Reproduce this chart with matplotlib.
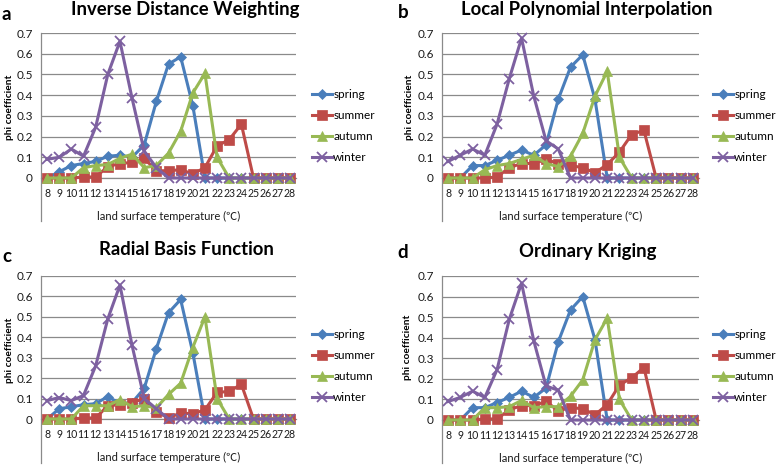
import matplotlib
matplotlib.use("Agg")
import matplotlib.pyplot as plt

plt.rcParams['font.family'] = ['Lato', 'Noto Sans CJK SC', 'DejaVu Sans']

temps = list(range(8, 29))
tick_labels = [str(t) for t in temps]
series_names = ['spring', 'summer', 'autumn', 'winter']
panel_titles = ['Inverse Distance Weighting', 'Local Polynomial Interpolation',
                'Radial Basis Function', 'Ordinary Kriging']
panel_letters = ['a', 'b', 'c', 'd']
x_label = 'land surface temperature (\u2103)'
y_label = 'phi coefficient'
y_ticks = [0, 0.1, 0.2, 0.3, 0.4, 0.5, 0.6, 0.7]
y_tick_labels = ['0', '0.1', '0.2', '0.3', '0.4', '0.5', '0.6', '0.7']

# a: Inverse Distance Weighting
idw_spring = [0, 0.03, 0.06, 0.07, 0.08, 0.105, 0.11, 0.10, 0.16, 0.37, 0.55, 0.585, 0.35, 0, 0, 0, 0, 0, 0, 0, 0]
idw_summer = [0, 0, 0, 0.005, 0.005, 0.055, 0.07, 0.075, 0.095, 0.035, 0.035, 0.04, 0.02, 0.05, 0.155, 0.185, 0.26, 0, 0, 0, 0]
idw_autumn = [0, 0, 0, 0.05, 0.06, 0.065, 0.095, 0.115, 0.05, 0.06, 0.12, 0.225, 0.41, 0.505, 0.10, 0, 0, 0, 0, 0, 0]
idw_winter = [0.09, 0.10, 0.14, 0.105, 0.245, 0.50, 0.66, 0.385, 0.13, 0.05, 0, 0, 0, 0, 0, 0, 0, 0, 0, 0, 0]

# b: Local Polynomial Interpolation
lpi_spring = [0, 0, 0.06, 0.06, 0.085, 0.11, 0.135, 0.11, 0.16, 0.38, 0.535, 0.595, 0.38, 0, 0, 0, 0, 0, 0, 0, 0]
lpi_summer = [0, 0, 0, 0, 0.005, 0.05, 0.07, 0.07, 0.09, 0.07, 0.06, 0.05, 0.025, 0.065, 0.125, 0.21, 0.23, 0, 0, 0, 0]
lpi_autumn = [0, 0, 0, 0.04, 0.06, 0.07, 0.09, 0.11, 0.07, 0.055, 0.105, 0.215, 0.395, 0.515, 0.10, 0, 0, 0, 0, 0, 0]
lpi_winter = [0.08, 0.11, 0.14, 0.11, 0.26, 0.48, 0.675, 0.395, 0.18, 0.14, 0, 0, 0, 0, 0, 0, 0, 0, 0, 0, 0]

# c: Radial Basis Function
rbf_spring = [0, 0.05, 0.06, 0.07, 0.075, 0.11, 0.075, 0.08, 0.15, 0.345, 0.52, 0.585, 0.325, 0, 0, 0, 0, 0, 0, 0, 0]
rbf_summer = [0, 0, 0, 0.005, 0.005, 0.065, 0.07, 0.08, 0.10, 0.035, 0.005, 0.03, 0.025, 0.045, 0.13, 0.135, 0.17, 0, 0, 0, 0]
rbf_autumn = [0, 0, 0, 0.065, 0.065, 0.065, 0.095, 0.06, 0.065, 0.055, 0.12, 0.175, 0.35, 0.50, 0.10, 0, 0, 0, 0, 0, 0]
rbf_winter = [0.09, 0.105, 0.09, 0.115, 0.26, 0.49, 0.655, 0.36, 0.10, 0.05, 0, 0, 0, 0, 0, 0, 0, 0, 0, 0, 0]

# d: Ordinary Kriging
ok_spring = [0, 0, 0.06, 0.06, 0.085, 0.11, 0.14, 0.11, 0.155, 0.38, 0.535, 0.60, 0.39, 0, 0, 0, 0, 0, 0, 0, 0]
ok_summer = [0, 0, 0, 0.005, 0.005, 0.05, 0.07, 0.07, 0.09, 0.045, 0.06, 0.055, 0.025, 0.075, 0.17, 0.205, 0.255, 0, 0, 0, 0]
ok_autumn = [0, 0, 0, 0.06, 0.06, 0.065, 0.095, 0.06, 0.065, 0.065, 0.115, 0.195, 0.39, 0.495, 0.10, 0, 0, 0, 0, 0, 0]
ok_winter = [0.09, 0.11, 0.14, 0.11, 0.245, 0.49, 0.665, 0.385, 0.165, 0.145, 0, 0, 0, 0, 0, 0, 0, 0, 0, 0, 0]

panels_data = [
    [idw_spring, idw_summer, idw_autumn, idw_winter],
    [lpi_spring, lpi_summer, lpi_autumn, lpi_winter],
    [rbf_spring, rbf_summer, rbf_autumn, rbf_winter],
    [ok_spring, ok_summer, ok_autumn, ok_winter],
]

colors = ['#4A7EBB', '#BE4B48', '#98B954', '#7D60A0']
markers = ['D', 's', '^', 'x']
msizes = [5, 6.5, 7, 7.5]

W, H = 778, 466
fig = plt.figure(figsize=(W / 100, H / 100), dpi=100)

# pixel layout: (left, right, top(0.7), bottom(0))
layouts = [
    (41, 296, 33, 178),
    (442, 699, 33, 178),
    (41, 296, 276, 419),
    (442, 699, 276, 420),
]
title_pos = [(185, 10), (587, 10), (186, 250), (588, 251)]
letter_pos = [(2, 14), (398, 13), (2, 256), (397, 253)]
ylabel_pos = [(10, 107), (409, 107), (10, 350), (408, 347)]
legend_pos = [(312, 126), (713, 126), (312, 366), (713, 366)]
axis_ext = [221, 221, 463, 463]

for i in range(4):
    l, r, t, b = layouts[i]
    ax = fig.add_axes([l / W, 1 - b / H, (r - l) / W, (b - t) / H])
    for j, name in enumerate(series_names):
        ax.plot(temps, panels_data[i][j], color=colors[j], marker=markers[j],
                ms=msizes[j], lw=2.2, mew=1.3 if markers[j] == 'x' else 0.5,
                mec=colors[j], label=name, clip_on=False, zorder=3 + j)
    ax.set_xlim(7.5, 28.5)
    ax.set_ylim(0, 0.7)
    ax.set_xticks(temps)
    ax.set_xticklabels(tick_labels, fontsize=7.6, color='#1a1a1a')
    ax.set_yticks(y_ticks)
    ax.set_yticklabels(y_tick_labels, fontsize=8.5, color='#1a1a1a')
    ax.tick_params(axis='x', length=0, pad=7)
    ax.tick_params(axis='y', length=0, pad=6)
    ax.grid(axis='y', color='#8a8a8a', lw=0.9)
    ax.set_axisbelow(True)
    for s in ['top', 'right', 'left']:
        ax.spines[s].set_visible(False)
    ax.spines['bottom'].set_color('#8a8a8a')
    ax.spines['bottom'].set_linewidth(0.9)
    ext = -(axis_ext[i] - b) / (b - t)
    ax.plot([0, 0], [ext, 1], transform=ax.transAxes, color='#8a8a8a',
            lw=0.9, clip_on=False)
    ax.text(0.5, -(38) / (b - t), x_label, transform=ax.transAxes,
            ha='center', va='center', fontsize=8, color='#1a1a1a')
    fx, fy = title_pos[i]
    fig.text(fx / W, 1 - fy / H, panel_titles[i], ha='center', va='center',
             fontsize=13.3, fontweight='bold')
    lx, ly = letter_pos[i]
    fig.text(lx / W, 1 - ly / H, panel_letters[i], ha='left', va='center',
             fontsize=13.5, fontweight='bold')
    yx, yy = ylabel_pos[i]
    fig.text(yx / W, 1 - yy / H, y_label, ha='center', va='center',
             rotation=90, fontsize=7.3, fontweight='bold')
    gx, gy = legend_pos[i]
    ax.legend(loc='center left', bbox_to_anchor=(gx / W, 1 - gy / H),
              bbox_transform=fig.transFigure, frameon=False, fontsize=8.5,
              handlelength=1.7, handletextpad=0.1, labelspacing=0.85,
              borderpad=0, borderaxespad=0)

fig.savefig('out.png', dpi=100)
